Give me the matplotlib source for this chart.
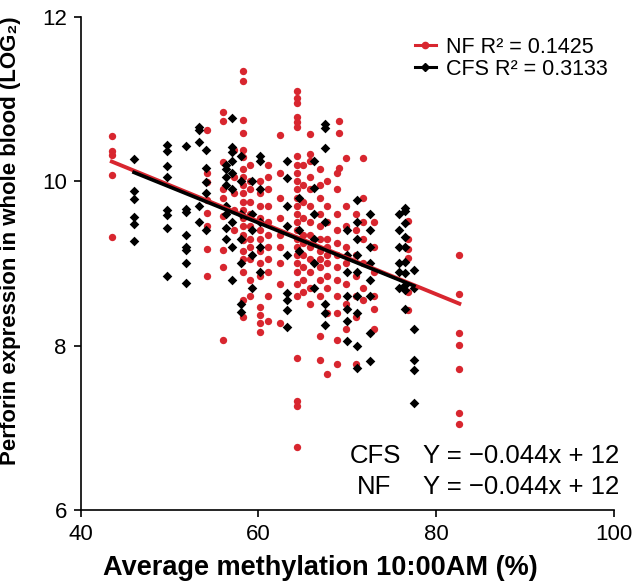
import numpy as np
import matplotlib
matplotlib.use("Agg")
import matplotlib.pyplot as plt
from matplotlib.lines import Line2D

plt.rcParams['font.family'] = ['Liberation Sans', 'DejaVu Sans']

# methylation columns (x) and perforin values (y)
nf_cols = [43.5, 54.2, 56.0, 57.2, 58.3, 59.1, 60.2, 61.1, 62.4, 64.3, 65.0,
           65.8, 66.9, 67.7, 68.8, 69.1, 69.9, 71.0, 71.8, 73.0, 76.8, 82.6]
nf_vals = [
    [10.55, 10.36, 10.32, 10.08, 9.32],
    [10.62, 10.1, 9.99, 9.77, 9.61, 9.45, 9.18, 8.84],
    [10.84, 10.73, 10.23, 9.9, 9.79, 9.57, 9.16, 8.95, 8.07],
    [10.38, 10.05, 9.85, 9.65, 9.4],
    [11.34, 11.22, 10.74, 10.58, 10.38, 10.29, 10.15, 10.05, 9.95, 9.85, 9.75,
     9.65, 9.55, 9.45, 9.35, 9.28, 9.15, 9.05, 8.9, 8.55, 8.35],
    [10.2, 10.0, 9.9, 9.75, 9.6, 9.45, 9.3, 9.2, 9.05, 8.8, 8.6],
    [10.0, 9.85, 9.7, 9.55, 9.4, 9.3, 9.15, 9.0, 8.85, 8.47, 8.37, 8.27, 8.16],
    [10.2, 10.05, 9.9, 9.7, 9.5, 9.35, 9.2, 9.05, 8.9, 8.6, 8.3],
    [10.56, 10.1, 9.8, 9.55, 9.35, 9.2, 9.0, 8.75, 8.28],
    [11.1, 11.01, 10.95, 10.78, 10.72, 10.66, 10.3, 10.2, 10.1, 10.0, 9.9, 9.8,
     9.7, 9.6, 9.5, 9.4, 9.3, 9.2, 9.1, 9.0, 8.9, 8.75, 8.6, 7.85, 7.32, 7.26, 6.76],
    [10.2, 9.95, 9.75, 9.55, 9.35, 9.25, 9.1, 8.95, 8.8, 8.65],
    [10.57, 10.33, 10.25, 10.05, 9.9, 9.7, 9.5, 9.35, 9.2, 9.05, 8.9, 8.7, 8.5],
    [10.15, 9.95, 9.8, 9.6, 9.45, 9.3, 9.15, 9.05, 8.95, 8.8, 8.6, 8.11, 7.82],
    [10.0, 9.7, 9.5, 9.3, 9.2, 9.1, 9.0, 8.85, 8.7, 8.39, 7.65],
    [10.1, 9.9, 9.6, 9.4, 9.25, 9.1, 8.95, 8.8, 8.6, 8.4, 8.07, 7.78],
    [10.73, 10.58, 10.16],
    [10.28, 9.7, 9.45, 9.2, 9.0, 8.75, 8.5, 8.2],
    [9.6, 9.4, 9.1, 8.85, 8.6, 8.35, 7.78],
    [10.28, 9.8, 9.5, 9.3, 9.0, 8.7, 8.55],
    [9.5, 9.2, 8.9, 8.6, 8.45, 8.2],
    [9.52, 9.3, 9.18, 9.07, 8.65, 8.43],
    [9.1, 8.63, 8.15, 8.01, 7.71, 7.18, 7.04],
]

cfs_cols = [46.0, 49.7, 51.9, 53.3, 54.1, 56.3, 57.0, 58.0, 59.3, 60.2, 63.2,
            64.6, 66.3, 67.5, 70.0, 71.1, 72.5, 75.8, 76.5, 77.5]
cfs_vals = [
    [10.27, 9.88, 9.78, 9.56, 9.48, 9.27],
    [10.44, 10.37, 10.18, 10.05, 9.65, 9.59, 9.43, 8.84],
    [10.43, 9.66, 9.63, 9.34, 9.2, 9.16, 9.0, 8.76],
    [10.66, 10.62, 10.47, 9.7, 9.5],
    [10.38, 10.16, 9.99, 9.85, 9.4],
    [10.2, 10.15, 10.05, 9.95, 9.7, 9.6, 9.43, 9.3],
    [10.77, 10.42, 10.35, 10.25, 10.1, 9.9, 9.5, 9.2, 8.8],
    [10.3, 10.0, 9.6, 9.3, 9.0, 8.5, 8.41],
    [10.0, 9.6, 9.4, 9.1, 8.7],
    [10.3, 10.25, 9.9, 9.5, 9.2, 8.9],
    [10.25, 10.04, 9.7, 9.45, 9.1, 8.64, 8.55, 8.43, 8.22],
    [9.8, 9.4, 9.15],
    [10.25, 9.91, 9.6, 9.3, 9.0, 8.7],
    [10.69, 10.64, 10.4, 9.5, 8.5, 8.4, 8.25],
    [9.4, 9.1, 8.9, 8.6, 8.45, 8.3, 8.05],
    [9.77, 9.5, 9.3, 9.1, 8.9, 8.6, 8.4, 8.0, 7.73],
    [9.6, 9.4, 9.2, 9.0, 8.8, 8.6, 8.15, 7.81],
    [9.6, 9.4, 9.2, 9.0, 8.9, 8.7],
    [9.67, 9.64, 9.49, 9.32, 9.2, 9.02, 8.88, 8.74, 8.67, 8.44],
    [8.92, 8.7, 8.2, 7.82, 7.7, 7.3],
]

# fitted lines as drawn in the figure
nf_fit = (-0.0442, 12.16)
cfs_fit = (-0.0438, 12.12)

RED = '#d8262f'
BLACK = '#000000'


def expand(cols, vals):
    xs, ys = [], []
    for c, v in zip(cols, vals):
        xs += [c] * len(v)
        ys += v
    return np.array(xs), np.array(ys)


nf_x, nf_y = expand(nf_cols, nf_vals)
cfs_x, cfs_y = expand(cfs_cols, cfs_vals)

fig = plt.figure(figsize=(6.33, 5.88), dpi=100)
ax = fig.add_axes([0.1275, 0.1327, 0.8425, 0.839])

ax.scatter(nf_x, nf_y, s=28, marker='o', color=RED, linewidths=0, zorder=2)
ax.scatter(cfs_x, cfs_y, s=24, marker='D', color=BLACK, linewidths=0, zorder=3)

xx = np.array([nf_x.min(), nf_x.max()])
ax.plot(xx, nf_fit[0] * xx + nf_fit[1], color=RED, lw=2.8, zorder=4)
xx = np.array([cfs_x.min(), cfs_x.max()])
ax.plot(xx, cfs_fit[0] * xx + cfs_fit[1], color=BLACK, lw=2.6, zorder=5)

ax.set_xlim(40, 100)
ax.set_ylim(6, 12)
ax.set_xticks([40, 60, 80, 100])
ax.set_yticks([6, 8, 10, 12])
for s in ['top', 'right']:
    ax.spines[s].set_visible(False)
for s in ['left', 'bottom']:
    ax.spines[s].set_linewidth(1.2)
ax.tick_params(labelsize=16, length=5, width=1.2, pad=5)

ax.set_xlabel('Average methylation 10:00AM (%)', fontsize=19.5, fontweight='bold')
ax.set_ylabel('Perforin expression in whole blood (LOG\u2082)', fontsize=16,
              fontweight='bold')
ax.xaxis.set_label_coords(0.449, -0.092)
ax.yaxis.set_label_coords(-0.112, 0.545)

handles = [
    Line2D([], [], color=RED, marker='o', markersize=4.5, lw=2.2),
    Line2D([], [], color=BLACK, marker='D', markersize=4.5, lw=2.2),
]
ax.legend(handles, ['NF R\u00b2 = 0.1425', 'CFS R\u00b2 = 0.3133'],
          loc='upper left', bbox_to_anchor=(0.598, 0.99), frameon=False,
          fontsize=15.5, handlelength=1.0, handletextpad=0.45,
          labelspacing=0.05, borderaxespad=0.3)

ax.text(70.3, 6.57, 'CFS', fontsize=18.5, clip_on=False)
ax.text(78.5, 6.57, 'Y = \u22120.044x + 12', fontsize=18.5, clip_on=False)
ax.text(71.1, 6.20, 'NF', fontsize=18.5, clip_on=False)
ax.text(78.5, 6.20, 'Y = \u22120.044x + 12', fontsize=18.5, clip_on=False)

fig.savefig('out.png', dpi=100)
